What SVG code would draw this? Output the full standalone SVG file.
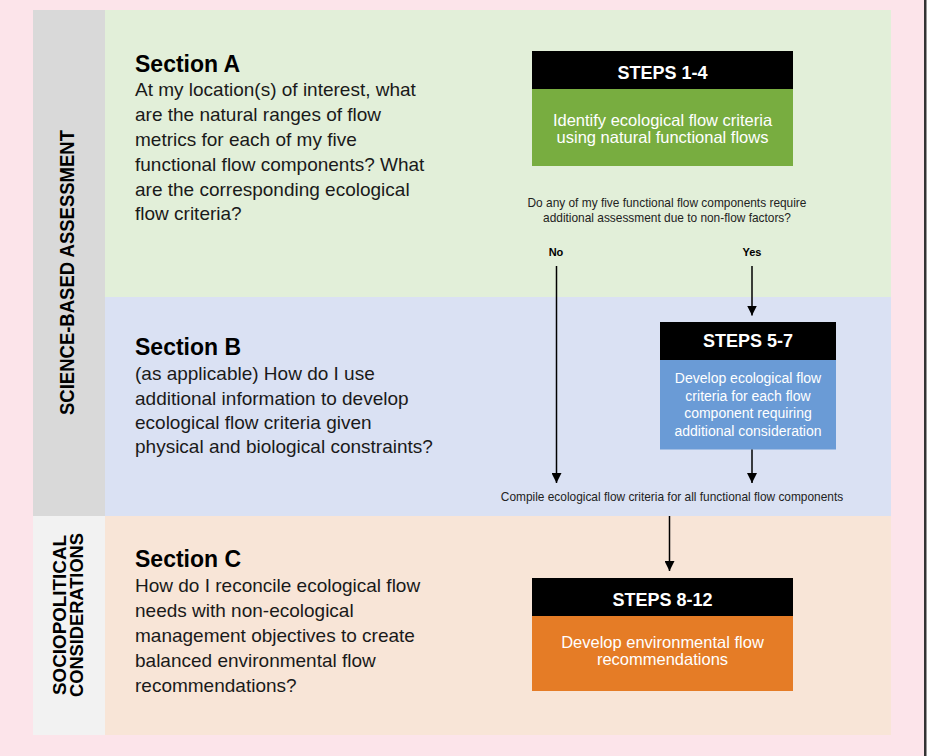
<svg xmlns="http://www.w3.org/2000/svg" width="941" height="756" viewBox="0 0 941 756">
<defs>
<style>
.sans{font-family:"Liberation Sans",Arial,sans-serif}
.title{font-family:"Liberation Sans",Arial,sans-serif;font-weight:bold;font-size:23px;fill:#000}
.body{font-family:"Liberation Sans",Arial,sans-serif;font-size:19px;fill:#1a1a1a}
.hdr{font-family:"Liberation Sans",Arial,sans-serif;font-weight:bold;font-size:18px;fill:#fff;text-anchor:middle}
.boxtxt{font-family:"Liberation Sans",Arial,sans-serif;font-size:16.5px;fill:#fff;text-anchor:middle}
.boxtxt2{font-family:"Liberation Sans",Arial,sans-serif;font-size:14px;fill:#fff;text-anchor:middle}
.small{font-family:"Liberation Sans",Arial,sans-serif;font-size:11.9px;fill:#222;text-anchor:middle}
.lbl{font-family:"Liberation Sans",Arial,sans-serif;font-weight:bold;font-size:11px;fill:#000;text-anchor:middle}
.side{font-family:"Liberation Sans",Arial,sans-serif;font-weight:bold;fill:#000;text-anchor:middle}
.conn{stroke:#000;stroke-width:1.5;fill:none;marker-end:url(#arr)}
</style>
<marker id="arr" viewBox="0 0 10 10" refX="10" refY="5" markerWidth="10" markerHeight="10" markerUnits="userSpaceOnUse" orient="auto">
<path d="M0,0 L10,5 L0,10 Z" fill="#000"/>
</marker>
</defs>
<rect x="0" y="0" width="941" height="756" fill="#fff"/>
<rect x="0" y="0" width="924" height="756" fill="#fce4ea"/>
<rect x="924" y="0" width="2.5" height="756" fill="#333"/>

<g id="side-science">
<rect x="33" y="10" width="72" height="506" fill="#d9d9d9"/>
<text class="side" font-size="20" transform="translate(74,272.5) rotate(-90)" textLength="285" lengthAdjust="spacingAndGlyphs">SCIENCE-BASED ASSESSMENT</text>
</g>
<g id="side-socio">
<rect x="33" y="516" width="72" height="219" fill="#f2f2f2"/>
<text class="side" font-size="18" transform="translate(65.5,615) rotate(-90)" textLength="160" lengthAdjust="spacingAndGlyphs">SOCIOPOLITICAL</text>
<text class="side" font-size="18" transform="translate(83,615) rotate(-90)" textLength="164" lengthAdjust="spacingAndGlyphs">CONSIDERATIONS</text>
</g>

<g id="sectionA">
<rect x="105" y="10" width="786" height="287" fill="#e2efd9"/>
<text class="title" x="135" y="71.5">Section A</text>
<text class="body" x="135" y="96">At my location(s) of interest, what</text>
<text class="body" x="135" y="121">are the natural ranges of flow</text>
<text class="body" x="135" y="146">metrics for each of my five</text>
<text class="body" x="135" y="170.5">functional flow components? What</text>
<text class="body" x="135" y="195.5">are the corresponding ecological</text>
<text class="body" x="135" y="220">flow criteria?</text>
</g>
<g id="sectionB">
<rect x="105" y="297" width="786" height="219" fill="#dae1f3"/>
<text class="title" x="135" y="355">Section B</text>
<text class="body" x="135" y="380">(as applicable) How do I use</text>
<text class="body" x="135" y="404.5">additional information to develop</text>
<text class="body" x="135" y="428.5">ecological flow criteria given</text>
<text class="body" x="135" y="453">physical and biological constraints?</text>
</g>
<g id="sectionC">
<rect x="105" y="516" width="786" height="219" fill="#f8e5d7"/>
<text class="title" x="135" y="566.5">Section C</text>
<text class="body" x="135" y="592">How do I reconcile ecological flow</text>
<text class="body" x="135" y="617">needs with non-ecological</text>
<text class="body" x="135" y="642">management objectives to create</text>
<text class="body" x="135" y="666.5">balanced environmental flow</text>
<text class="body" x="135" y="691.5">recommendations?</text>
</g>

<g id="steps1-4">
<rect x="532" y="51" width="261" height="38" fill="#000"/>
<rect x="532" y="89" width="261" height="77" fill="#78ad40"/>
<text class="hdr" x="662.5" y="79">STEPS 1-4</text>
<text class="boxtxt" x="662.5" y="126">Identify ecological flow criteria</text>
<text class="boxtxt" x="662.5" y="143">using natural functional flows</text>
</g>

<g id="question">
<text class="small" x="667" y="207">Do any of my five functional flow components require</text>
<text class="small" x="667" y="221.5">additional assessment due to non-flow factors?</text>
</g>

<g id="steps5-7">
<rect x="660" y="322" width="176" height="38" fill="#000"/>
<rect x="660" y="360" width="176" height="89.5" fill="#6a9bd6"/>
<text class="hdr" x="748" y="347">STEPS 5-7</text>
<text class="boxtxt2" x="748" y="383">Develop ecological flow</text>
<text class="boxtxt2" x="748" y="400.5">criteria for each flow</text>
<text class="boxtxt2" x="748" y="418">component requiring</text>
<text class="boxtxt2" x="748" y="435.5">additional consideration</text>
</g>

<g id="compile">
<text class="small" x="672" y="501">Compile ecological flow criteria for all functional flow components</text>
</g>

<g id="steps8-12">
<rect x="532" y="578" width="261" height="38" fill="#000"/>
<rect x="532" y="616" width="261" height="75" fill="#e57c26"/>
<text class="hdr" x="662.5" y="606">STEPS 8-12</text>
<text class="boxtxt" x="662.5" y="647.5">Develop environmental flow</text>
<text class="boxtxt" x="662.5" y="665">recommendations</text>
</g>

<g id="connectors">
<text class="lbl" x="556" y="256">No</text>
<text class="lbl" x="752" y="256">Yes</text>
<line class="conn" x1="556.5" y1="266" x2="556.5" y2="483"/>
<line class="conn" x1="752" y1="266" x2="752" y2="315.5"/>
<line class="conn" x1="752" y1="449.5" x2="752" y2="483"/>
<line class="conn" x1="669.5" y1="516" x2="669.5" y2="571"/>
</g>
</svg>
